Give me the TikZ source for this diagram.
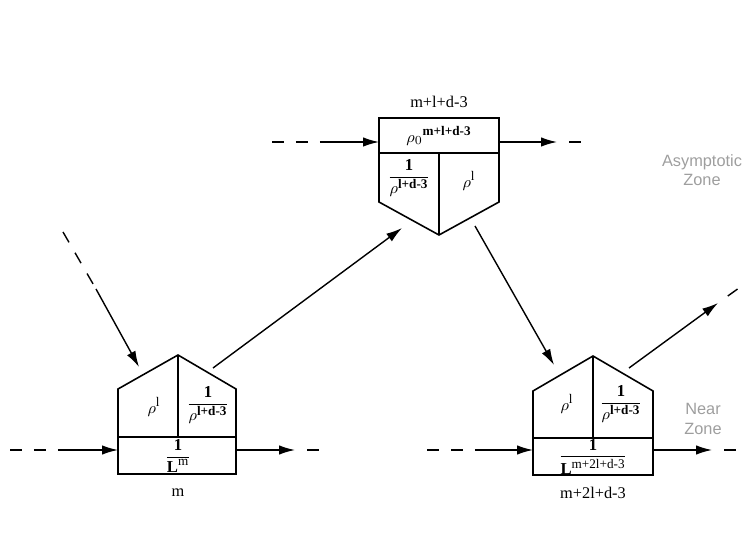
\documentclass[tikz,border=0pt]{standalone}
\usepackage{amsmath}
\usepackage{fontspec}
\setmainfont{Liberation Serif}
\setsansfont{Liberation Sans}
\usetikzlibrary{arrows.meta}

\newcommand{\powtxt}[1]{\mbox{\fontsize{7.5}{8}\selectfont\bfseries #1}}
\newcommand{\powreg}[1]{\mbox{\fontsize{7.5}{8}\selectfont #1}}

\begin{document}
\begin{tikzpicture}[
    x=0.02cm, y=-0.02cm,
    every node/.style={font=\fontsize{9.3}{11}\selectfont},
    room/.style={font=\fontsize{9.5}{11}\selectfont,inner sep=0pt},
    house/.style={draw,line width=0.9pt},
    flow/.style={line width=0.8pt,-{Latex[length=3.2mm,width=1.9mm]}},
    intail/.style={line width=0.8pt,dash pattern=on 0.24cm off 0.24cm},
    outtail/.style={intail,dash phase=0.24cm},
    zone/.style={font=\sffamily\fontsize{9.3}{11}\selectfont,text=black!38,align=center}
]
\useasboundingbox (0,0) rectangle (747,560);

% Houses
\draw[house] (379,118) rectangle (499,153);
\draw[house] (379,153) -- (379,202) -- (439,235) -- (499,202) -- (499,153);
\draw[house] (439,153) -- (439,235);

\draw[house] (118,437) rectangle (236,474);
\draw[house] (118,437) -- (118,389) -- (178,355) -- (236,389) -- (236,437);
\draw[house] (178,355) -- (178,437);

\draw[house] (533,438) rectangle (653,475);
\draw[house] (533,438) -- (533,391) -- (593,356) -- (653,391) -- (653,438);
\draw[house] (593,356) -- (593,438);

% Texts in the compartments
\node (topTag)   at (439,102) {m+l+d-3};
\node[room] (topBand)  at (439,136) {${\rho_0}^{\powtxt{m+l+d-3}}$};
\node[room] (topLeft)  at (409,178) {$\dfrac{\textbf{1}}{\rho^{\powtxt{l+d-3}}}$};
\node[room] (topRight) at (469,181) {$\rho^{\powreg{l}}$};

\node (leftTag)   at (178,493) {m};
\node[room] (leftRho)   at (154,407) {$\rho^{\powreg{l}}$};
\node[room] (leftFrac)  at (208,405) {$\dfrac{\textbf{1}}{\rho^{\powtxt{l+d-3}}}$};
\node[room] (leftBand)  at (178,456) {$\dfrac{\textbf{1}}{\textbf{L}^{\powreg{m}}}$};

\node (rightTag)  at (593,493) {m+2l+d-3};
\node[room] (rightRho)  at (567,404) {$\rho^{\powreg{l}}$};
\node[room] (rightFrac) at (621,404) {$\dfrac{\textbf{1}}{\rho^{\powtxt{l+d-3}}}$};
\node[room] (rightBand) at (593,457) {$\dfrac{\textbf{1}}{\textbf{L}^{\powreg{m+2l+d-3}}}$};

% Zone labels
\node[zone] (farZone)  at (702,170) {Asymptotic\\Zone};
\node[zone] (nearZone) at (703,419) {Near\\Zone};

% Connector ends
\coordinate (leftIn)    at (10,450);
\coordinate (leftInM)   at (58,450);
\coordinate (leftInE)   at (118,450);
\coordinate (leftOut)   at (236,450);
\coordinate (leftOutM)  at (295,450);
\coordinate (leftOutE)  at (319,450);
\coordinate (topIn)     at (272,142);
\coordinate (topInM)    at (320,142);
\coordinate (topInE)    at (379,142);
\coordinate (topOut)    at (499,142);
\coordinate (topOutM)   at (557,142);
\coordinate (topOutE)   at (581,142);
\coordinate (rightIn)   at (427,450);
\coordinate (rightInM)  at (475,450);
\coordinate (rightInE)  at (533,450);
\coordinate (rightOut)  at (653,450);
\coordinate (rightOutM) at (712,450);
\coordinate (rightOutE) at (736,450);
\coordinate (diagIn)    at (63,232);
\coordinate (diagInM)   at (96,289);
\coordinate (leftRoofIn)  at (139,367);
\coordinate (leftRoofOut) at (213,368);
\coordinate (topTipIn)    at (402,228);
\coordinate (topTipOut)   at (475,226);
\coordinate (rightRoofIn) at (554,365);
\coordinate (rightRoofOut) at (629,368);
\coordinate (diagOutM)  at (718,303);
\coordinate (diagOutE)  at (746,283);

% Horizontal flows
\draw[intail] (leftIn) -- (leftInM);
\draw[flow] (leftInM) -- (leftInE);
\draw[flow] (leftOut) -- (leftOutM);
\draw[outtail] (leftOutM) -- (leftOutE);

\draw[intail] (topIn) -- (topInM);
\draw[flow] (topInM) -- (topInE);
\draw[flow] (topOut) -- (topOutM);
\draw[outtail] (topOutM) -- (topOutE);

\draw[intail] (rightIn) -- (rightInM);
\draw[flow] (rightInM) -- (rightInE);
\draw[flow] (rightOut) -- (rightOutM);
\draw[outtail] (rightOutM) -- (rightOutE);

% Diagonal flows
\draw[intail] (diagIn) -- (diagInM);
\draw[flow] (diagInM) -- (leftRoofIn);
\draw[flow] (leftRoofOut) -- (topTipIn);
\draw[flow] (topTipOut) -- (rightRoofIn);
\draw[flow] (rightRoofOut) -- (diagOutM);
\draw[outtail] (diagOutM) -- (diagOutE);

\end{tikzpicture}
\end{document}
